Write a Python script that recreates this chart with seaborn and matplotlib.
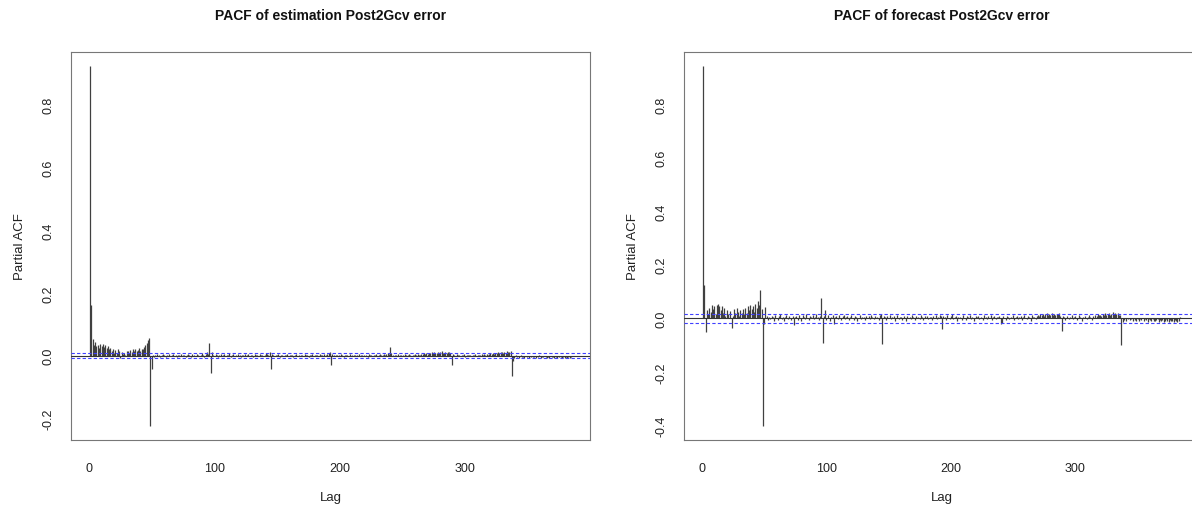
import numpy as np
import matplotlib
matplotlib.use("Agg")
import matplotlib.pyplot as plt
import seaborn as sns

# ── PACF values (in thousandths), lags 1..384 ──
lags = np.arange(1, 385)

est_pacf = [
    920, 162, 52, 35, 45, 30, 33, 26, 36, 30, 38, 28, 34, 25, 31, 20,
    26, 15, 21, 10, 18, 8, 20, 15, -6, 12, 5, 10, 3, 14, 16, 10,
    18, 12, 20, 15, 22, 14, 18, 25, 16, 22, 20, 28, 35, 42, 50, 55,
    -222, -42, 4, -3, 2, 6, -2, 3, -4, 1, 5, 2, -3, 4, 0, 6,
    -2, 3, 5, -1, 2, -4, 3, 1, 7, -2, 2, 4, -3, 1, 6, 2,
    -3, 5, 0, 3, -2, 6, 4, -1, 2, 8, 3, -4, 6, 12, 5, 42,
    -55, 12, 4, -2, 6, 3, -3, 2, 5, -1, 4, 7, -2, 3, 1, 8,
    -4, 2, 5, 0, 3, -2, 6, 1, -3, 4, 2, 5, -1, 3, 7, -2,
    2, 4, -3, 5, 1, 3, -1, 6, 2, 4, -2, 3, 8, 5, 2, 12,
    -42, 6, 3, -2, 4, 1, 5, -3, 2, 3, -1, 4, 2, 6, -2, 3,
    1, 4, -3, 2, 5, 0, 3, -1, 4, 2, -2, 5, 1, 3, -3, 4,
    2, 6, -1, 3, 1, 4, -2, 5, 2, 3, 7, -1, 4, 6, 8, 12,
    -30, 5, 2, -2, 4, 1, 3, -1, 5, 2, -3, 4, 1, 3, 0, 5,
    -2, 3, 1, 4, -1, 2, 5, -2, 3, 1, 4, 0, 2, -3, 5, 1,
    3, -1, 4, 2, 6, -2, 3, 5, 1, 4, 7, 3, 5, 8, 6, 28,
    8, 3, -2, 4, 1, 5, -1, 3, 2, 4, -2, 5, 1, 3, 6, 2,
    -1, 4, 2, 5, 3, 6, 1, 4, 7, 5, 8, 6, 9, 7, 10, 8,
    11, 9, 12, 8, 10, 13, 9, 11, 14, 8, 10, 12, 9, 11, 13, 8,
    -30, 6, 3, -2, 5, 1, 4, -1, 3, 2, 5, -3, 2, 4, 1, 3,
    -2, 4, 2, 5, -1, 3, 1, 4, 6, 2, 5, 3, 7, 4, 6, 8,
    5, 9, 7, 10, 8, 12, 9, 11, 13, 10, 12, 9, 14, 11, 13, 16,
    -65, -18, -8, 2, -4, -2, -6, 1, -5, -3, -7, 0, -4, -2, -6, -3,
    -1, -5, -3, -7, -2, -4, 1, -6, -3, -5, -2, -4, -8, -3, -6, -2,
    -5, -4, -7, -3, -6, -1, -5, -4, -8, -3, -6, -5, -7, -4, -6, -3,
]

fc_pacf = [
    940, 125, -52, 30, 18, 40, 25, 50, 35, 45, 15, 50, 55, 45, 30, 45,
    20, 40, 10, 30, 15, 2, 28, -36, 10, 35, 20, 40, 25, 10, 30, 20,
    35, 15, 40, 20, 45, 30, 50, 35, 45, 25, 55, 40, 65, 50, 105, 35,
    -400, -20, 43, 8, -5, 6, -3, 10, 4, -8, 12, 2, -6, 9, 15, -4,
    7, -10, 5, 12, -3, 8, 2, -6, 10, -25, 4, 9, -5, 14, 3, -8,
    11, 6, -4, 16, 2, -7, 9, 5, 13, -3, 7, 18, 4, -6, 10, 76,
    -90, 8, 30, -5, 12, 3, -8, 6, 14, -20, 5, 9, -4, 11, 2, -6,
    8, 13, -3, 5, 10, -7, 4, 12, 1, -5, 9, 6, -10, 3, 11, -2,
    7, 4, -6, 10, 2, 8, -4, 13, 5, -3, 9, 1, 6, -7, 12, 15,
    -96, 10, 4, -6, 8, 2, 11, -4, 6, 9, -8, 3, 12, -2, 7, 5,
    -5, 10, 3, -9, 8, 1, 6, -4, 11, 4, -7, 9, 2, 5, -3, 12,
    6, -5, 8, 3, 10, -2, 7, 4, -6, 9, 2, 12, -3, 6, 14, 8,
    -41, 10, 5, -7, 12, 3, -4, 8, 15, -2, 6, 10, -9, 4, 7, 2,
    -5, 11, 3, -6, 8, 5, 12, -3, 7, 2, -8, 9, 4, 10, -2, 6,
    3, -7, 11, 5, -4, 8, 2, 13, -5, 6, 9, -3, 7, 4, 10, -22,
    -18, 8, 3, -6, 10, 5, -3, 7, 2, 12, -5, 6, 9, -2, 4, 8,
    -7, 5, 11, 3, -4, 9, 6, -8, 12, 4, 7, -3, 10, 14, 8, 16,
    12, 18, 10, 15, 20, 13, 17, 11, 19, 14, 16, 12, 18, 15, 20, 10,
    -48, 8, 4, -6, 10, 3, -4, 7, 12, -3, 6, 9, -5, 2, 11, 5,
    -8, 7, 3, 10, -2, 6, 13, 4, -6, 9, 2, 12, 8, 15, 11, 14,
    10, 17, 12, 19, 14, 16, 20, 13, 18, 22, 15, 19, 17, 21, 14, 12,
    -98, -12, -6, 3, -9, -4, 2, -7, -3, -10, 1, -5, -8, -2, -11, -4,
    -6, 1, -9, -3, -7, -12, -2, -5, -10, -4, -8, -11, -6, -3, -13, -7,
    -9, -5, -12, -8, -4, -10, -14, -6, -11, -9, -13, -7, -10, -12, -8, 5,
]

est_ci = 0.008
fc_ci = 0.0175

titles = ["PACF of estimation Post2Gcv error", "PACF of forecast Post2Gcv error"]
x_ticks = [0, 100, 200, 300]
est_yticks = [-0.2, 0.0, 0.2, 0.4, 0.6, 0.8]
fc_yticks = [-0.4, -0.2, 0.0, 0.2, 0.4, 0.6, 0.8]

assert len(est_pacf) == 384 and len(fc_pacf) == 384

# ── Style ────────────────────────────────────────────────────
sns.set_theme(style="white")
plt.rcParams["font.family"] = ["Liberation Sans", "DejaVu Sans"]

fig = plt.figure(figsize=(11.92, 5.06), dpi=100)
W, H = 1192, 506
ax1 = fig.add_axes([71 / W, (H - 441) / H, 519 / W, 388 / H])
ax2 = fig.add_axes([684 / W, (H - 441) / H, 515 / W, 388 / H])

panels = [
    (ax1, np.array(est_pacf) / 1000, est_ci, est_yticks, titles[0]),
    (ax2, np.array(fc_pacf) / 1000, fc_ci, fc_yticks, titles[1]),
]

for ax, vals, ci, yticks, title in panels:
    ax.vlines(lags, 0, vals, color="#404040", linewidth=0.9, zorder=2)
    ax.axhline(0, color="#333333", linewidth=0.8, zorder=3)
    ax.axhline(ci, color="#4040ff", linewidth=0.8, linestyle=(0, (3, 2)), zorder=4)
    ax.axhline(-ci, color="#4040ff", linewidth=0.8, linestyle=(0, (3, 2)), zorder=4)

    lo, hi = vals.min(), vals.max()
    pad = 0.04 * (hi - lo)
    ax.set_ylim(lo - pad, hi + pad)
    ax.set_xlim(1 - 0.04 * 383, 384 + 0.04 * 383)

    ax.set_xticks(x_ticks)
    ax.set_yticks(yticks)
    ax.set_yticklabels([f"{t:.1f}" for t in yticks], rotation=90, va="center")
    ax.tick_params(axis="both", direction="out", length=5, width=0.8,
                   color="#555555", labelsize=9, labelcolor="#222222")
    ax.tick_params(axis="x", pad=11)
    ax.tick_params(axis="y", pad=7)

    for s in ax.spines.values():
        s.set_color("#777777")
        s.set_linewidth(0.8)

    ax.set_xlabel("Lag", fontsize=9.5, labelpad=12, color="#222222")
    ax.set_ylabel("Partial ACF", fontsize=9.5, labelpad=12, color="#222222")
    ax.set_title(title, fontsize=10, fontweight="bold", pad=24, color="#111111")

plt.savefig("out.png", dpi=100)
